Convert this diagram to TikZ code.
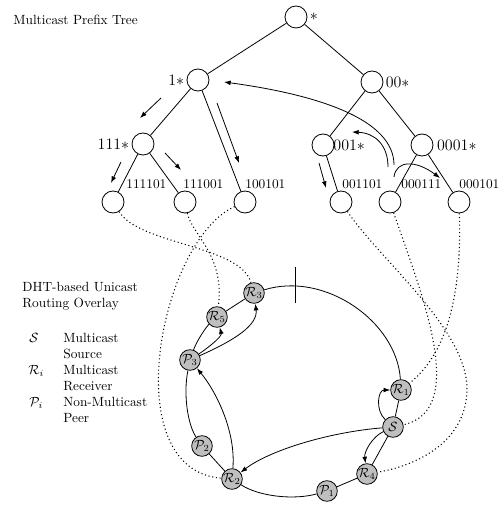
\documentclass[tikz,border=0pt]{standalone}
\usetikzlibrary{arrows.meta}
\begin{document}
\begin{tikzpicture}[x=0.75pt,y=-0.75pt,line width=0.6pt,
  tnode/.style={circle,draw,minimum size=16.5pt,inner sep=0pt},
  rnode/.style={circle,draw,fill=gray!50,minimum size=15.5pt,inner sep=0pt},
  plab/.style={font=\large,inner sep=1.5pt},
  txt/.style={inner sep=0pt,anchor=base west},
  arr/.style={-{Latex[length=5pt,width=3.6pt]}},
  dotline/.style={dotted,line width=0.8pt}]
\path[use as bounding box] (0,0) rectangle (503,506);

% ---------- prefix tree ----------
\node[tnode] (root) at (296,17) {};
\node[tnode] (n1) at (198,80) {};
\node[tnode] (n00) at (372,82) {};
\node[tnode] (n111) at (143,144) {};
\node[tnode] (n001) at (323,145) {};
\node[tnode] (n0001) at (422,145) {};
\node[tnode] (f111101) at (113,202) {};
\node[tnode] (f111001) at (185,202) {};
\node[tnode] (f100101) at (245,202) {};
\node[tnode] (f001101) at (341,202) {};
\node[tnode] (f000111) at (390,202) {};
\node[tnode] (f000101) at (459,202) {};

\draw (root) -- (n1);
\draw (root) -- (n00);
\draw (n1) -- (n111);
\draw (n1) -- (f100101);
\draw (n00) -- (n001);
\draw (n00) -- (n0001);
\draw (n111) -- (f111101);
\draw (n111) -- (f111001);
\draw (n001) -- (f001101);
\draw (n0001) -- (f000111);
\draw (n0001) -- (f000101);

\node[plab,anchor=west] (lroot) at (root.east) {$*$};
\node[plab,anchor=east] (l1) at (n1.west) {1$*$};
\node[plab,anchor=west] (l00) at (n00.east) {00$*$};
\node[plab,anchor=east] (l111) at (n111.west) {111$*$};
\node[plab,anchor=west,inner sep=0pt] (l001) at ([xshift=-1pt]n001.east) {001$*$};
\node[plab,anchor=west,inner sep=2.5pt] (l0001) at (n0001.east) {0001$*$};

\node[txt] (t111101) at (126,188) {111101};
\node[txt] (t111001) at (183,188) {111001};
\node[txt] (t100101) at (245,188) {100101};
\node[txt] (t001101) at (342,188) {001101};
\node[txt] (t000111) at (401,188) {000111};
\node[txt] (t000101) at (459,188) {000101};

% detached arrows in the tree
\coordinate (a1s) at (161,98);  \coordinate (a1e) at (140,118);
\coordinate (a2s) at (121,162); \coordinate (a2e) at (111,183);
\coordinate (a3s) at (165,153); \coordinate (a3e) at (181,170);
\coordinate (a4s) at (217,103); \coordinate (a4e) at (239,163);
\coordinate (a5s) at (319,163); \coordinate (a5e) at (326,188);
\coordinate (a6s) at (394,165); \coordinate (a6e) at (224,82);
\coordinate (a7s) at (388,167); \coordinate (a7e) at (352,132);
\coordinate (a8s) at (394,177); \coordinate (a8e) at (440,178);
\draw[arr] (a1s) -- (a1e);
\draw[arr] (a2s) -- (a2e);
\draw[arr] (a3s) -- (a3e);
\draw[arr] (a4s) -- (a4e);
\draw[arr] (a5s) -- (a5e);
\draw[arr] (a6s) .. controls (394,120) and (320,95) .. (a6e);
\draw[arr] (a7s) .. controls (388,145) and (375,133) .. (a7e);
\draw[arr] (a8s) .. controls (396,160) and (416,160) .. (a8e);

% ---------- ring ----------
\node[rnode] (R3) at (254,293) {$\mathcal{R}_3$};
\node[rnode] (R5) at (217,317) {$\mathcal{R}_5$};
\node[rnode] (P3) at (190,360) {$\mathcal{P}_3$};
\node[rnode] (P2) at (202,446) {$\mathcal{P}_2$};
\node[rnode] (R2) at (232,479) {$\mathcal{R}_2$};
\node[rnode] (P1) at (327,491) {$\mathcal{P}_1$};
\node[rnode] (R4) at (367,474) {$\mathcal{R}_4$};
\node[rnode] (S) at (393,427) {$\mathcal{S}$};
\node[rnode] (R1) at (401,390) {$\mathcal{R}_1$};

\draw (R3) -- (R5);
\draw (R5) .. controls (207,326) and (197,340) .. (P3);
\draw (P3) .. controls (183,395) and (188,425) .. (P2);
\draw (P2) -- (R2);
\draw (R2) .. controls (260,497) and (295,500) .. (P1);
\draw (P1) -- (R4);
\draw (R4) -- (S);
\draw (S) -- (R1);
\draw (R3) .. controls (325,271) and (397,322) .. (R1);

\coordinate (tickT) at (295,267);
\coordinate (tickB) at (295,303);
\draw (tickT) -- (tickB);

\draw[arr] (P3) .. controls (212,345) and (222,336) .. (R5);
\draw[arr] (P3) .. controls (235,340) and (258,325) .. (R3);
\draw[arr] (R2) .. controls (236,430) and (215,390) .. (P3);
\draw[arr] (S) .. controls (330,432) and (270,450) .. (R2);
\draw[arr] (S) .. controls (375,410) and (378,390) .. (R1);
\draw[arr] (S) .. controls (372,437) and (364,452) .. (R4);

% ---------- dotted mappings ----------
\draw[dotline] (f111101) .. controls (140,245) and (240,245) .. (R3);
\draw[dotline] (f111001) .. controls (192,235) and (225,255) .. (R5);
\draw[dotline] (f100101) .. controls (160,240) and (115,470) .. (R2);
\draw[dotline] (f001101) .. controls (380,260) and (468,330) .. (467,390)
   .. controls (466,440) and (420,465) .. (R4);
\draw[dotline] (f000111) .. controls (420,290) and (470,410) .. (S);
\draw[dotline] (f000101) .. controls (462,300) and (445,355) .. (R1);

% ---------- texts ----------
\node[txt] (title) at (13,25) {Multicast Prefix Tree};
\node[txt] (dht1) at (22,291) {DHT-based Unicast};
\node[txt] (dht2) at (22,307) {Routing Overlay};
\node[txt] (symS) at (29,342) {$\mathcal{S}$};
\node[txt] (symR) at (28,374) {$\mathcal{R}_i$};
\node[txt] (symP) at (29,406) {$\mathcal{P}_i$};
\node[txt] (dS1) at (63,342) {Multicast};
\node[txt] (dS2) at (63,358) {Source};
\node[txt] (dR1) at (63,374) {Multicast};
\node[txt] (dR2) at (63,390) {Receiver};
\node[txt] (dP1) at (63,406) {Non-Multicast};
\node[txt] (dP2) at (63,422) {Peer};
\end{tikzpicture}
\end{document}
